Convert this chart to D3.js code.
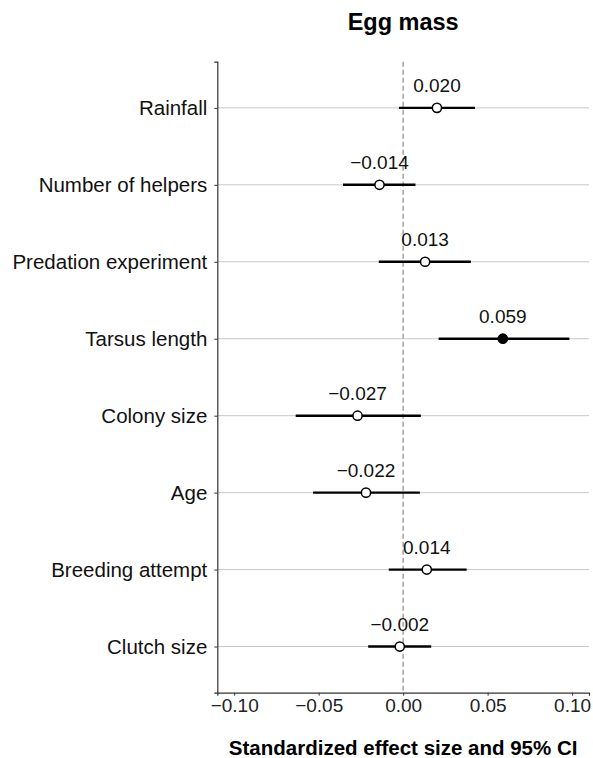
<!DOCTYPE html>
<html>
<head>
<meta charset="utf-8">
<script src="https://cdn.jsdelivr.net/npm/d3@7"></script>
<style>
  body { margin: 0; background: #fff; }
  svg { display: block; font-family: Arial, "Liberation Sans", sans-serif; }
</style>
</head>
<body>
<svg id="chart" width="593" height="758"></svg>
<script>
// data
var predictors = ["Rainfall", "Number of helpers", "Predation experiment", "Tarsus length",
                  "Colony size", "Age", "Breeding attempt", "Clutch size"];
var estimates  = [0.020, -0.014, 0.013, 0.059, -0.027, -0.022, 0.014, -0.002];
var lowerCI    = [-0.0025, -0.0356, -0.0144, 0.021, -0.0636, -0.0533, -0.0085, -0.0207];
var upperCI    = [0.0425, 0.0073, 0.0401, 0.0984, 0.0105, 0.0099, 0.0376, 0.0166];
var significant = [false, false, false, true, false, false, false, false];
var xTicks = [-0.10, -0.05, 0.00, 0.05, 0.10];

var svg = d3.select("#chart");
var margin = {left: 217.3, right: 4, top: 61.7, bottom: 65.3};
var width = 593, height = 758;

var x = d3.scaleLinear()
    .domain([-0.110, 0.110])
    .range([margin.left, width - margin.right]);

var y = d3.scalePoint()
    .domain(predictors)
    .range([margin.top, height - margin.bottom])
    .padding(0.6);

// horizontal grid
svg.append("g")
  .selectAll("line")
  .data(predictors)
  .join("line")
    .attr("x1", margin.left)
    .attr("x2", width - margin.right)
    .attr("y1", function (d) { return y(d); })
    .attr("y2", function (d) { return y(d); })
    .attr("stroke", "#c8c8c8")
    .attr("stroke-width", 1);

// zero line
svg.append("line")
    .attr("x1", x(0)).attr("x2", x(0))
    .attr("y1", margin.top).attr("y2", height - margin.bottom)
    .attr("stroke", "#a8a8a8")
    .attr("stroke-width", 1.6)
    .attr("stroke-dasharray", "5,3");

// axes
var xAxis = svg.append("g")
    .attr("transform", "translate(0," + (height - margin.bottom) + ")")
    .call(d3.axisBottom(x).tickValues(xTicks).tickFormat(function (d) {
        return d3.format(".2f")(d).replace("-", "\u2212");
    }).tickSizeOuter(0).tickSize(3).tickPadding(3));
xAxis.select(".domain").attr("stroke", "#333").attr("stroke-width", 1.2);
xAxis.selectAll(".tick line").attr("stroke", "#333");
xAxis.selectAll(".tick text").attr("font-size", 19).attr("fill", "#222");

var yAxis = svg.append("g")
    .attr("transform", "translate(" + margin.left + ",0)")
    .call(d3.axisLeft(y).tickSizeOuter(0).tickSize(3).tickPadding(7));
yAxis.select(".domain").attr("stroke", "#333").attr("stroke-width", 1.2);
yAxis.selectAll(".tick line").attr("stroke", "#333");
yAxis.selectAll(".tick text").attr("font-size", 20.5).attr("fill", "#111");

// confidence intervals
var rows = predictors.map(function (p, i) {
    return {name: p, est: estimates[i], lo: lowerCI[i], hi: upperCI[i], sig: significant[i]};
});

svg.append("g")
  .selectAll("line")
  .data(rows)
  .join("line")
    .attr("x1", function (d) { return x(d.lo); })
    .attr("x2", function (d) { return x(d.hi); })
    .attr("y1", function (d) { return y(d.name); })
    .attr("y2", function (d) { return y(d.name); })
    .attr("stroke", "#000")
    .attr("stroke-width", 2.4);

svg.append("g")
  .selectAll("circle")
  .data(rows)
  .join("circle")
    .attr("cx", function (d) { return x(d.est); })
    .attr("cy", function (d) { return y(d.name); })
    .attr("r", 4.6)
    .attr("fill", function (d) { return d.sig ? "#000" : "#fff"; })
    .attr("stroke", "#000")
    .attr("stroke-width", 1.5);

// value labels
svg.append("g")
  .selectAll("text")
  .data(rows)
  .join("text")
    .attr("x", function (d) { return x(d.est); })
    .attr("y", function (d) { return y(d.name) - 16; })
    .attr("text-anchor", "middle")
    .attr("font-size", 19)
    .attr("fill", "#111")
    .text(function (d) { return d3.format(".3f")(d.est).replace("-", "\u2212"); });

// title and axis label
svg.append("text")
    .attr("x", x(0)).attr("y", 30)
    .attr("text-anchor", "middle")
    .attr("font-size", 23.5).attr("font-weight", "bold")
    .text("Egg mass");

svg.append("text")
    .attr("x", x(0)).attr("y", 755)
    .attr("text-anchor", "middle")
    .attr("font-size", 20.5).attr("font-weight", "bold")
    .text("Standardized effect size and 95% CI");
</script>
</body>
</html>
